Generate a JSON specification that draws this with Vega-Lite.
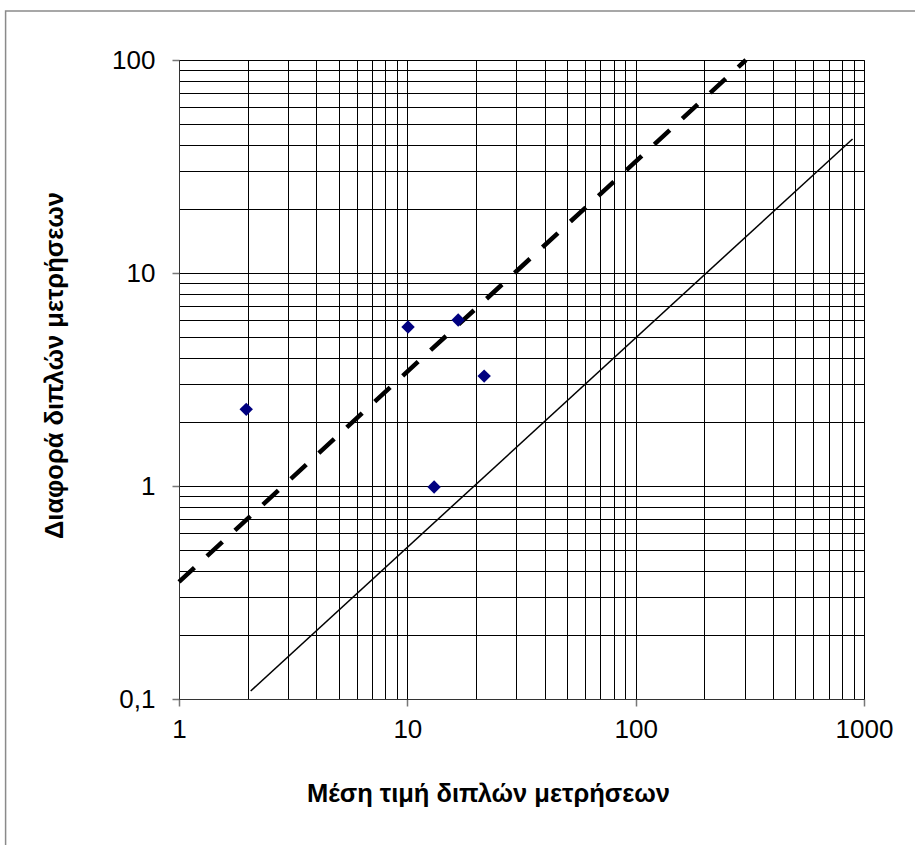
{
  "$schema": "https://vega.github.io/schema/vega-lite/v6.json",
  "width": 685,
  "height": 639,
  "autosize": "none",
  "padding": {"left": 179, "top": 60, "right": 51, "bottom": 146},
  "background": "white",
  "config": {
    "font": "Liberation Sans",
    "view": {"stroke": "#555555", "strokeWidth": 1},
    "axis": {
      "grid": true,
      "labelFont": "Liberation Sans",
      "titleFont": "Liberation Sans",
      "labelColor": "black",
      "titleColor": "black",
      "gridColor": "black",
      "gridWidth": 1,
      "gridOpacity": 1,
      "domainColor": "#333333",
      "tickColor": "#777777",
      "tickWidth": 1.5,
      "labelOverlap": false,
      "labelBound": false,
      "labelFlush": false
    }
  },
  "datasets": {
    "points": [
      {"mean": 1.97, "diff": 2.29},
      {"mean": 10.07, "diff": 5.58},
      {"mean": 16.7, "diff": 6.02},
      {"mean": 21.7, "diff": 3.28},
      {"mean": 13.1, "diff": 0.99}
    ],
    "lines": [
      {"series": "dashed", "mean": 1, "diff": 0.355},
      {"series": "dashed", "mean": 304, "diff": 100},
      {"series": "solid", "mean": 2.06, "diff": 0.109},
      {"series": "solid", "mean": 891, "diff": 42.6}
    ]
  },
  "layer": [
    {
      "data": {"values": [{}]},
      "mark": {"type": "rect", "fill": null, "stroke": "#8a8a8a", "strokeWidth": 1.5, "clip": false},
      "encoding": {
        "x": {"datum": 0.174, "type": "quantitative", "scale": {"type": "log", "domain": [1, 1000], "nice": false}},
        "x2": {"datum": 1000000},
        "y": {"datum": 170, "type": "quantitative", "scale": {"type": "log", "domain": [0.1, 100], "nice": false}},
        "y2": {"datum": 0.0001}
      }
    },
    {
      "data": {"name": "lines"},
      "transform": [{"filter": "datum.series == 'solid'"}],
      "mark": {"type": "line", "color": "black", "strokeWidth": 1.5},
      "encoding": {
        "x": {"field": "mean", "type": "quantitative"},
        "y": {"field": "diff", "type": "quantitative"}
      }
    },
    {
      "data": {"name": "lines"},
      "transform": [{"filter": "datum.series == 'dashed'"}],
      "mark": {"type": "line", "color": "black", "strokeWidth": 4.5, "strokeDash": [21, 17]},
      "encoding": {
        "x": {"field": "mean", "type": "quantitative"},
        "y": {"field": "diff", "type": "quantitative"}
      }
    },
    {
      "data": {"name": "points"},
      "mark": {"type": "point", "shape": "diamond", "filled": true, "color": "#000080", "size": 180, "opacity": 1},
      "encoding": {
        "x": {
          "field": "mean",
          "type": "quantitative",
          "scale": {"type": "log", "domain": [1, 1000], "nice": false},
          "axis": {
            "grid": true,
            "values": [1,2,3,4,5,6,7,8,9,10,20,30,40,50,60,70,80,90,100,200,300,400,500,600,700,800,900,1000],
            "format": "d",
            "labelExpr": "indexof([1,10,100,1000], datum.value) >= 0 ? datum.label : ''",
            "tickSize": {"condition": {"test": "indexof([1,10,100,1000], datum.value) >= 0", "value": 7}, "value": 0},
            "labelFontSize": 26,
            "labelPadding": 10,
            "title": "Μέση τιμή διπλών μετρήσεων",
            "titleFontSize": 25.5,
            "titleFontWeight": "bold",
            "titleX": 309,
            "titleY": 102,
            "titleAlign": "center",
            "titleBaseline": "alphabetic"
          }
        },
        "y": {
          "field": "diff",
          "type": "quantitative",
          "scale": {"type": "log", "domain": [0.1, 100], "nice": false},
          "axis": {
            "grid": true,
            "values": [0.1,0.2,0.3,0.4,0.5,0.6,0.7,0.8,0.9,1,2,3,4,5,6,7,8,9,10,20,30,40,50,60,70,80,90,100],
            "labelExpr": "datum.value == 0.1 ? '0,1' : (indexof([1,10,100], datum.value) >= 0 ? format(datum.value, 'd') : '')",
            "tickSize": {"condition": {"test": "indexof([0.1,1,10,100], datum.value) >= 0", "value": 7}, "value": 0},
            "labelFontSize": 26,
            "labelPadding": 17,
            "title": "Διαφορά διπλών μετρήσεων",
            "titleFontSize": 25.5,
            "titleFontWeight": "bold",
            "titleAngle": 270,
            "titleX": -125,
            "titleY": 305,
            "titleAlign": "center",
            "titleBaseline": "middle"
          }
        }
      }
    }
  ]
}
